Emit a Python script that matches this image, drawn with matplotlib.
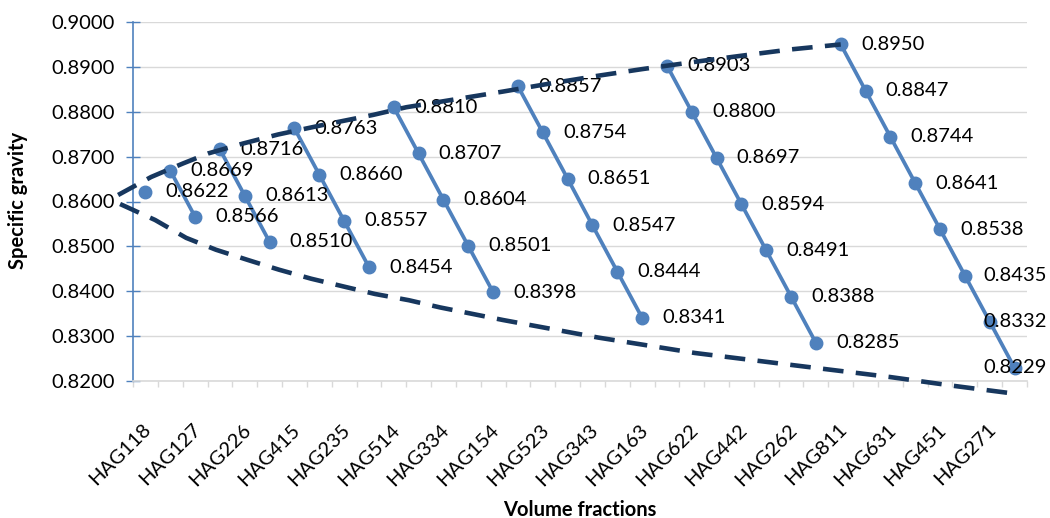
import matplotlib
matplotlib.use("Agg")
import matplotlib.pyplot as plt
import numpy as np
from matplotlib.ticker import FixedLocator, FuncFormatter
import matplotlib.transforms as mtransforms

# ---- data ----
categories = ["HAG118", "HAG127", "HAG226", "HAG415", "HAG235", "HAG514",
              "HAG334", "HAG154", "HAG523", "HAG343", "HAG163", "HAG622",
              "HAG442", "HAG262", "HAG811", "HAG631", "HAG451", "HAG271"]
values = [0.8622,
          0.8669, 0.8566,
          0.8716, 0.8613, 0.8510,
          0.8763, 0.8660, 0.8557, 0.8454,
          0.8810, 0.8707, 0.8604, 0.8501, 0.8398,
          0.8857, 0.8754, 0.8651, 0.8547, 0.8444, 0.8341,
          0.8903, 0.8800, 0.8697, 0.8594, 0.8491, 0.8388, 0.8285,
          0.8950, 0.8847, 0.8744, 0.8641, 0.8538, 0.8435, 0.8332, 0.8229]
group_sizes = [1, 2, 3, 4, 5, 6, 7, 8]

# envelope (hand-drawn dashed guide curves), in data units
upper_x = [-1.10, 0.23, 1.51, 2.52, 3.93, 5.34, 7.1, 9.17, 10.5, 12.4, 14.4,
           16.2, 18.2, 20.0, 22.5, 24.3, 26.0, 28.0]
upper_y = [0.86145, 0.86546, 0.86847, 0.87070, 0.87292, 0.87493, 0.87700,
           0.87930, 0.88100, 0.88270, 0.88450, 0.88620, 0.88800, 0.88950,
           0.89140, 0.89270, 0.89390, 0.8950]
lower_x = [-1.02, 0.39, 1.64, 2.84, 4.13, 5.38, 6.67, 7.95, 9.24, 10.61, 11.86,
           14.40, 18.22, 22.13, 26.04, 29.98, 32.60, 35.10]
lower_y = [0.85944, 0.85588, 0.85190, 0.84925, 0.84696, 0.84480, 0.84280,
           0.84110, 0.83940, 0.83800, 0.83640, 0.83359, 0.82969, 0.82624,
           0.82356, 0.82089, 0.81888, 0.81710]

yticks = [0.82, 0.83, 0.84, 0.85, 0.86, 0.87, 0.88, 0.89, 0.90]

FONT = "Lato"
plt.rcParams['font.family'] = [FONT, 'DejaVu Sans']

W, H = 1050, 518
fig = plt.figure(figsize=(W / 100, H / 100), dpi=100)
ax = fig.add_axes([133 / W, 1 - 381 / H, (1027 - 133) / W, (381 - 22) / H])

blue = "#4F81BD"
navy = "#17375E"
grid = "#D9D9D9"

n = len(values)
x_all = np.arange(n)
start = 0
for g in group_sizes:
    xs = x_all[start:start + g]
    ys = values[start:start + g]
    ax.plot(xs, ys, color=blue, lw=2.7, marker="o", ms=9, zorder=3,
            solid_capstyle="round")
    start += g

ax.set_xlim(-0.5, n - 0.5)
ax.set_ylim(0.82, 0.90)

# grid
ax.set_yticks(yticks)
ax.yaxis.set_major_formatter(FuncFormatter(lambda v, p: f"{v:.4f}"))
ax.grid(axis="y", color=grid, lw=1, zorder=0)
ax.set_axisbelow(True)

for s in ["top", "right"]:
    ax.spines[s].set_visible(False)
ax.spines["left"].set_color(blue)
ax.spines["left"].set_linewidth(1.2)
ax.spines["bottom"].set_color(grid)
ax.spines["bottom"].set_linewidth(1.2)

ax.tick_params(axis="y", direction="inout", length=10, width=1, color=blue,
               labelsize=14.5, pad=8, labelcolor="black")

# x: labels every other category, minor ticks on boundaries
ax.set_xticks(np.arange(0, n, 2))
ax.set_xticklabels(categories)
ax.xaxis.set_minor_locator(FixedLocator(np.arange(-0.5, n, 1.0)))
ax.tick_params(axis="x", which="major", length=0, labelsize=14.5, pad=33)
ax.tick_params(axis="x", which="minor", length=4.5, width=1, color=grid,
               direction="out")
offset = mtransforms.ScaledTranslation(3 / 100, 0, fig.dpi_scale_trans)
for lab in ax.get_xticklabels():
    lab.set_rotation(45)
    lab.set_ha("right")
    lab.set_va("center")
    lab.set_rotation_mode("anchor")
    lab.set_transform(lab.get_transform() + offset)

# data labels
texts = []
for xi, v in zip(x_all, values):
    t = ax.annotate(f"{v:.4f}", (xi, v), xytext=(14.5, 0),
                    textcoords="offset points", ha="left", va="center",
                    fontsize=14.5, zorder=4, annotation_clip=False)
    texts.append(t)

# envelope curves
ax.plot(upper_x, upper_y, color=navy, lw=3.3, ls=(0, (4.5, 2.7)),
        dash_capstyle="butt", zorder=5, clip_on=False)
ax.plot(lower_x, lower_y, color=navy, lw=3.3, ls=(0, (4.5, 2.7)),
        dash_capstyle="butt", zorder=5, clip_on=False)

ylab = fig.text(18 / W, 1 - 200 / H, "Specific gravity", rotation=90,
                fontsize=14.5, fontweight="bold", ha="center", va="center")
xlab = fig.text((133 + 1027) / 2 / W, 1 - 510 / H, "Volume fractions",
                fontsize=14.5, fontweight="bold", ha="center", va="center")

# keep labels inside the figure (like Excel does)
fig.canvas.draw()
r = fig.canvas.get_renderer()
for t in texts:
    bb = t.get_window_extent(r)
    if bb.x1 > W - 3:
        shift = (bb.x1 - (W - 3)) * 72 / 100
        t.xyann = (14.5 - shift, 0)

fig.savefig("out.png", dpi=100)
